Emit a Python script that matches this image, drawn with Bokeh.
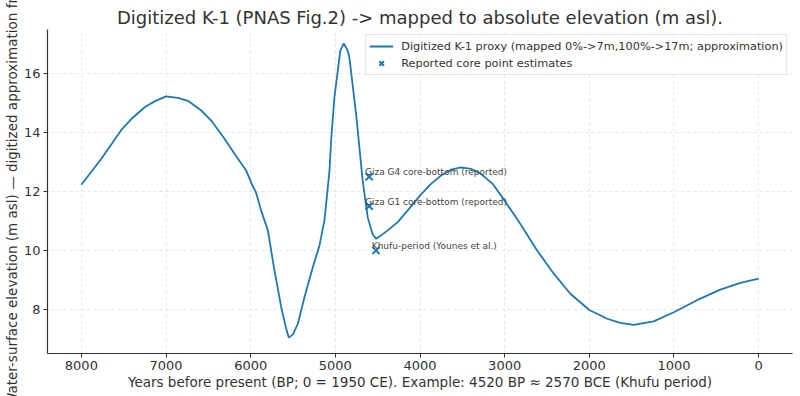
from bokeh.plotting import figure
from bokeh.models import FixedTicker, Range1d, Legend, LegendItem
from bokeh.core.properties import value
from bokeh.embed import file_html
from bokeh.resources import INLINE

# ---- data ----
years_bp = [8000, 7764, 7528, 7410, 7253, 7135, 7000, 6859, 6741, 6584, 6466,
            6309, 6191, 6053, 5986, 5935, 5876, 5797, 5719, 5640, 5581, 5550,
            5500, 5443, 5364, 5266, 5187, 5128, 5069, 5050, 5011, 4971, 4941,
            4900, 4854, 4834, 4755, 4677, 4618, 4560, 4519, 4460, 4381, 4263,
            4145, 3988, 3870, 3752, 3634, 3516, 3398, 3280, 3142, 3000, 2814,
            2617, 2420, 2224, 1996, 1870, 1791, 1634, 1476, 1240, 996, 728,
            452, 216, 0]
elevation_m = [12.23, 13.11, 14.09, 14.46, 14.86, 15.06, 15.23, 15.18, 15.08, 14.75, 14.41,
               13.79, 13.28, 12.71, 12.25, 11.95, 11.35, 10.68, 9.32, 8.08, 7.35, 7.04,
               7.15, 7.51, 8.42, 9.43, 10.17, 11.03, 12.71, 13.73, 15.2, 16.1, 16.78,
               17.03, 16.78, 16.55, 14.63, 12.37, 11.13, 10.55, 10.4, 10.51, 10.68, 10.96,
               11.36, 11.9, 12.26, 12.54, 12.74, 12.82, 12.77, 12.6, 12.26, 11.69, 10.9,
               10.0, 9.21, 8.53, 7.97, 7.8, 7.68, 7.54, 7.47, 7.59, 7.91, 8.31,
               8.67, 8.9, 9.04]

core_years = [4600, 4600, 4520]
core_elev = [12.5, 11.5, 10.0]
core_labels = ["Giza G4 core-bottom (reported)",
               "Giza G1 core-bottom (reported)",
               "Khufu-period (Younes et al.)"]
label_dx = 50      # years (text placed slightly to the older side)
label_dy = 0.15    # m

x_ticks = [8000, 7000, 6000, 5000, 4000, 3000, 2000, 1000, 0]
y_ticks = [8, 10, 12, 14, 16]

title_text = "Digitized K-1 (PNAS Fig.2) -> mapped to absolute elevation (m asl)."
x_label = "Years before present (BP; 0 = 1950 CE). Example: 4520 BP \u2248 2570 BCE (Khufu period)"
y_label = "Water-surface elevation (m asl) \u2014 digitized approximation from"
line_label = "Digitized K-1 proxy (mapped 0%->7m,100%->17m; approximation)"
point_label = "Reported core point estimates"

FONT = "DejaVu Sans"
BLUE = "#1f77b4"

p = figure(width=800, height=396, output_backend="svg", toolbar_location=None,
           x_range=Range1d(8400, -400), y_range=Range1d(6.5, 17.5),
           min_border_left=47, min_border_right=8, min_border_top=29,
           min_border_bottom=43)

p.title.text = title_text
p.title.align = "center"
p.title.text_font = FONT
p.title.text_font_size = "18px"
p.title.text_font_style = "normal"
p.title.text_color = "#333333"
p.title.standoff = 3
p.title.offset = 0

p.outline_line_color = None
p.background_fill_color = "white"
p.border_fill_color = "white"

for ax in (p.xaxis[0], p.yaxis[0]):
    ax.axis_line_color = "#333333"
    ax.axis_line_width = 1.2
    ax.major_tick_line_color = "#333333"
    ax.major_tick_out = 4
    ax.major_tick_in = 0
    ax.minor_tick_line_color = None
    ax.major_label_text_font = FONT
    ax.major_label_text_font_size = "13px"
    ax.major_label_text_color = "#333333"
    ax.axis_label_text_font = FONT
    ax.axis_label_text_font_size = "13.5px"
    ax.axis_label_text_font_style = "normal"
    ax.axis_label_text_color = "#333333"

p.xaxis[0].ticker = FixedTicker(ticks=x_ticks)
p.yaxis[0].ticker = FixedTicker(ticks=y_ticks)
p.xaxis[0].axis_label = x_label
p.yaxis[0].axis_label = y_label
p.xaxis[0].major_label_standoff = 3
p.xaxis[0].axis_label_standoff = 1
p.yaxis[0].major_label_standoff = 3
p.yaxis[0].axis_label_standoff = 1

for g in (p.xgrid[0], p.ygrid[0]):
    g.grid_line_color = "#bbbbbb"
    g.grid_line_alpha = 0.45
    g.grid_line_dash = "3 3"
    g.grid_line_width = 0.8
p.xgrid[0].ticker = FixedTicker(ticks=x_ticks)
p.ygrid[0].ticker = FixedTicker(ticks=y_ticks)

r_line = p.line(years_bp, elevation_m, line_color=BLUE, line_width=1.8)
r_pts = p.scatter(core_years, core_elev, marker="x", size=10, line_color=BLUE,
                  line_width=2)

p.text(x=[x + label_dx for x in core_years], y=[y + label_dy for y in core_elev],
       text=core_labels, text_font=value(FONT), text_font_size="9px",
       text_color="#444444", text_align="left", text_baseline="alphabetic")

legend = Legend(items=[LegendItem(label=line_label, renderers=[r_line]),
                       LegendItem(label=point_label, renderers=[r_pts])],
                location="top_right")
legend.label_text_font = FONT
legend.label_text_font_size = "11.3px"
legend.label_text_color = "#333333"
legend.border_line_color = "#cccccc"
legend.border_line_width = 1
legend.background_fill_alpha = 0.85
legend.glyph_width = 24
legend.glyph_height = 16
legend.label_standoff = 8
legend.label_height = 15
legend.spacing = 1
legend.padding = 3
legend.margin = 5
p.add_layout(legend)

open("out.html", "w").write(file_html(p, INLINE))
